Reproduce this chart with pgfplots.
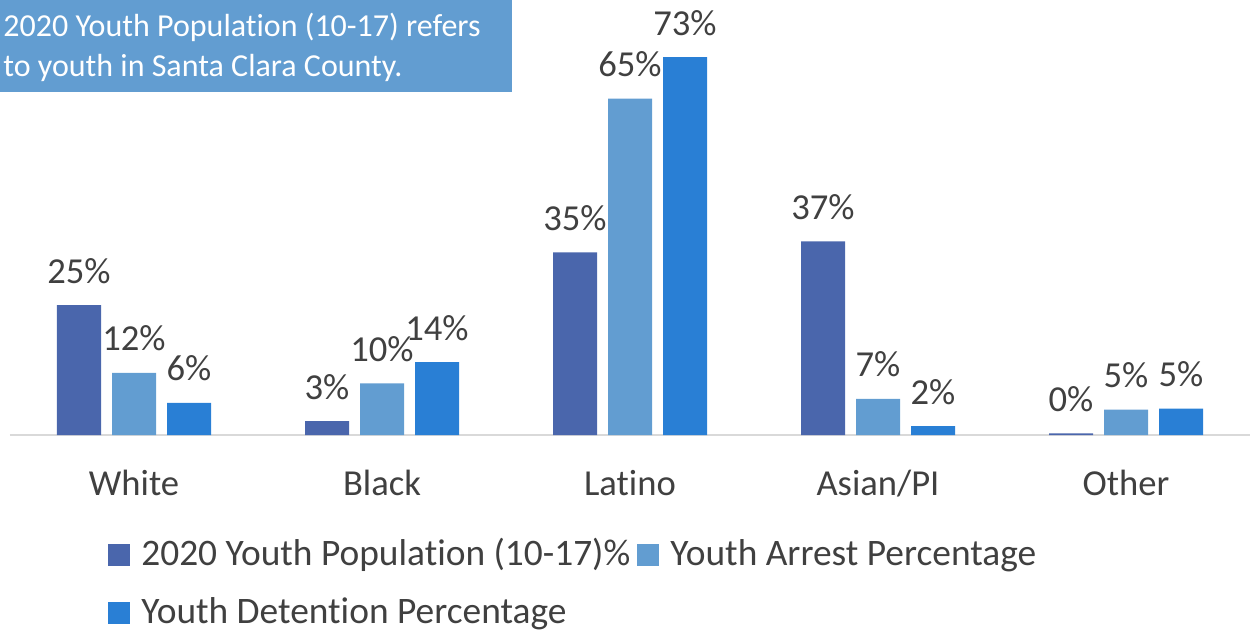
\documentclass[border=0pt]{standalone}
\usepackage{pgfplots}
\pgfplotsset{compat=1.18}
\usepackage{fontspec}
\setmainfont{Carlito}[Ligatures=NoCommon]
\definecolor{cA}{HTML}{4A66AC}
\definecolor{cB}{HTML}{629DD1}
\definecolor{cC}{HTML}{297FD5}
\definecolor{txt}{HTML}{404040}
\definecolor{boxc}{HTML}{629DD1}
\definecolor{axc}{HTML}{D9D9D9}
\begin{document}
\begin{tikzpicture}
\useasboundingbox (0,0) rectangle (628pt,314.5pt);
\begin{axis}[
  at={(5pt,97pt)}, anchor=south west,
  scale only axis, width=620pt, height=207pt,
  ybar=5.5pt, bar width=22pt,
  xmin=-0.5, xmax=4.5, ymin=0, ymax=80,
  xtick={0,1,2,3,4}, xticklabels={White,Black,Latino,Asian/PI,Other},
  ytick=\empty,
  axis x line=bottom, axis y line=none,
  x axis line style={-, draw=axc, line width=1pt},
  xtick style={draw=none},
  xticklabel style={anchor=base, yshift=-28pt, font=\fontsize{18.3}{22}\selectfont, text=txt},
  nodes near coords={\pgfmathprintnumber[fixed,precision=0,assume math mode=true]{\pgfplotspointmeta}\%},
  every node near coord/.append style={anchor=base, inner sep=0pt, yshift=11pt, font=\fontsize{18.3}{22}\selectfont, text=txt},
  legend columns=2,
  legend image code/.code={\fill[#1] (0pt,0pt) rectangle (11pt,11pt);},
  legend style={at={(0.0790,-0.2488)}, anchor=north west, draw=none, inner sep=0pt,
    font=\fontsize{18.7}{22}\selectfont, text=txt,
    cells={anchor=base west}, nodes={inner sep=0pt},
    row sep=14.5pt,
    /tikz/every odd column/.append style={column sep=5.5pt},
    /tikz/every even column/.append style={column sep=3.5pt}},
]
\addplot[fill=cA, draw=none] coordinates {(0,25.1) (1,2.7) (2,35.3) (3,37.4) (4,0.3)};
\addplot[fill=cB, draw=none] coordinates {(0,12.0) (1,10.0) (2,65.0) (3,7.0) (4,4.9)};
\addplot[fill=cC, draw=none] coordinates {(0,6.2) (1,14.1) (2,73.0) (3,1.7) (4,5.1)};
\legend{2020 Youth Population (10-17)\%, Youth Arrest Percentage, Youth Detention Percentage}
\end{axis}
\fill[boxc] (0pt,268.5pt) rectangle (256pt,314.5pt);
\node[anchor=base west, inner sep=0pt, text=white, font=\fontsize{16}{19}\selectfont] at (1.5pt,296.25pt) {2020 Youth Population (10-17) refers};
\node[anchor=base west, inner sep=0pt, text=white, font=\fontsize{16}{19}\selectfont] at (1.5pt,276.5pt) {to youth in Santa Clara County.};
\end{tikzpicture}
\end{document}
